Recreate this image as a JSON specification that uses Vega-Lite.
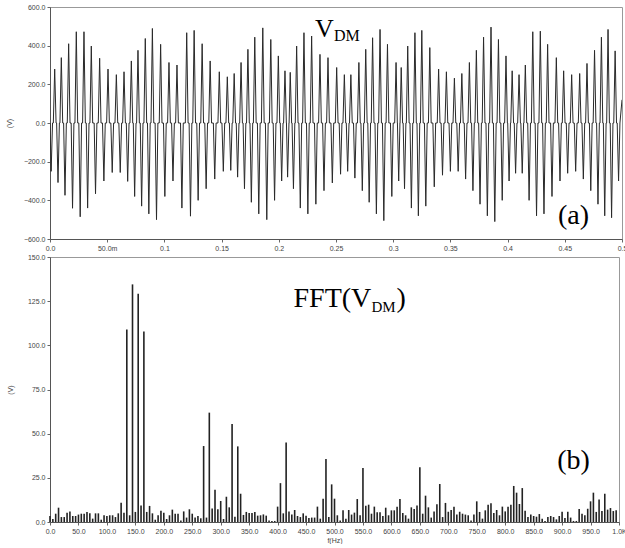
{
  "$schema": "https://vega.github.io/schema/vega-lite/v6.json",
  "background": "white",
  "padding": {"left": 4, "top": 2, "right": 0, "bottom": 0},
  "autosize": {"type": "pad"},
  "spacing": 0,
  "config": {
    "view": {"stroke": "#999", "strokeWidth": 1},
    "axis": {
      "grid": false,
      "labelFont": "Liberation Sans",
      "labelFontSize": 7,
      "labelColor": "#444",
      "titleFont": "Liberation Sans",
      "titleFontSize": 7,
      "titleFontWeight": "normal",
      "titleColor": "#444",
      "tickColor": "#666",
      "tickSize": 3,
      "labelPadding": 2,
      "domainColor": "#555",
      "labelFlush": false,
      "labelOverlap": false
    }
  },
  "datasets": {
    "wave": [
      {"t":0,"v":0},{"t":1,"v":-250},{"t":2.2,"v":0},
      {"t":2.9,"v":0},{"t":4.1,"v":279},{"t":5.3,"v":0},
      {"t":5.8,"v":0},{"t":7,"v":-308},{"t":8.2,"v":0},
      {"t":8.7,"v":0},{"t":9.9,"v":338},{"t":11.1,"v":0},
      {"t":11.9,"v":0},{"t":13.1,"v":-374},{"t":14.3,"v":0},
      {"t":15.1,"v":0},{"t":16.3,"v":410},{"t":17.5,"v":0},
      {"t":18.5,"v":0},{"t":19.7,"v":-441},{"t":20.9,"v":0},
      {"t":21.8,"v":0},{"t":23,"v":472},{"t":24.2,"v":0},
      {"t":25.2,"v":0},{"t":26.4,"v":-485},{"t":27.6,"v":0},
      {"t":28.5,"v":0},{"t":29.7,"v":472},{"t":30.9,"v":0},
      {"t":31.7,"v":0},{"t":32.9,"v":-440},{"t":34.1,"v":0},
      {"t":34.9,"v":0},{"t":36.1,"v":398},{"t":37.3,"v":0},
      {"t":38.6,"v":0},{"t":39.8,"v":-366},{"t":41,"v":0},
      {"t":42.2,"v":0},{"t":43.4,"v":335},{"t":44.6,"v":0},
      {"t":45.9,"v":0},{"t":47.1,"v":-300},{"t":48.3,"v":0},
      {"t":49.5,"v":0},{"t":50.7,"v":279},{"t":51.9,"v":0},
      {"t":53.2,"v":0},{"t":54.4,"v":-256},{"t":55.6,"v":0},
      {"t":56.8,"v":0},{"t":58,"v":250},{"t":59.2,"v":0},
      {"t":60.2,"v":0},{"t":61.4,"v":-256},{"t":62.6,"v":0},
      {"t":63.5,"v":0},{"t":64.7,"v":265},{"t":65.9,"v":0},
      {"t":66.7,"v":0},{"t":67.9,"v":-302},{"t":69.1,"v":0},
      {"t":69.9,"v":0},{"t":71.1,"v":321},{"t":72.3,"v":0},
      {"t":72.8,"v":0},{"t":74,"v":-380},{"t":75.2,"v":0},
      {"t":75.7,"v":0},{"t":76.9,"v":376},{"t":78.1,"v":0},
      {"t":78.9,"v":0},{"t":80.1,"v":-430},{"t":81.3,"v":0},
      {"t":82.1,"v":0},{"t":83.3,"v":437},{"t":84.5,"v":0},
      {"t":85.2,"v":0},{"t":86.4,"v":-470},{"t":87.6,"v":0},
      {"t":88.3,"v":0},{"t":89.5,"v":489},{"t":90.7,"v":0},
      {"t":91.9,"v":0},{"t":93.1,"v":-500},{"t":94.3,"v":0},
      {"t":95.5,"v":0},{"t":96.7,"v":407},{"t":97.9,"v":0},
      {"t":99.2,"v":0},{"t":100.4,"v":-380},{"t":101.6,"v":0},
      {"t":102.8,"v":0},{"t":104,"v":313},{"t":105.2,"v":0},
      {"t":106.3,"v":0},{"t":107.5,"v":-300},{"t":108.7,"v":0},
      {"t":109.8,"v":0},{"t":111,"v":300},{"t":112.2,"v":0},
      {"t":114.1,"v":0},{"t":115.3,"v":-440},{"t":116.5,"v":0},
      {"t":118.3,"v":0},{"t":119.5,"v":467},{"t":120.7,"v":0},
      {"t":121.6,"v":0},{"t":122.8,"v":-482},{"t":124,"v":0},
      {"t":124.8,"v":0},{"t":126,"v":479},{"t":127.2,"v":0},
      {"t":128.3,"v":0},{"t":129.5,"v":-400},{"t":130.7,"v":0},
      {"t":131.8,"v":0},{"t":133,"v":410},{"t":134.2,"v":0},
      {"t":135.3,"v":0},{"t":136.5,"v":-340},{"t":137.7,"v":0},
      {"t":138.8,"v":0},{"t":140,"v":321},{"t":141.2,"v":0},
      {"t":142.8,"v":0},{"t":144,"v":-290},{"t":145.2,"v":0},
      {"t":146.8,"v":0},{"t":148,"v":265},{"t":149.2,"v":0},
      {"t":150.3,"v":0},{"t":151.5,"v":-250},{"t":152.7,"v":0},
      {"t":153.8,"v":0},{"t":155,"v":239},{"t":156.2,"v":0},
      {"t":156.8,"v":0},{"t":158,"v":-245},{"t":159.2,"v":0},
      {"t":159.8,"v":0},{"t":161,"v":256},{"t":162.2,"v":0},
      {"t":162.8,"v":0},{"t":164,"v":-280},{"t":165.2,"v":0},
      {"t":165.8,"v":0},{"t":167,"v":313},{"t":168.2,"v":0},
      {"t":168.8,"v":0},{"t":170,"v":-340},{"t":171.2,"v":0},
      {"t":171.8,"v":0},{"t":173,"v":381},{"t":174.2,"v":0},
      {"t":174.8,"v":0},{"t":176,"v":-410},{"t":177.2,"v":0},
      {"t":177.8,"v":0},{"t":179,"v":444},{"t":180.2,"v":0},
      {"t":181.3,"v":0},{"t":182.5,"v":-470},{"t":183.7,"v":0},
      {"t":184.8,"v":0},{"t":186,"v":492},{"t":187.2,"v":0},
      {"t":188.3,"v":0},{"t":189.5,"v":-500},{"t":190.7,"v":0},
      {"t":191.8,"v":0},{"t":193,"v":432},{"t":194.2,"v":0},
      {"t":195.1,"v":0},{"t":196.3,"v":-400},{"t":197.5,"v":0},
      {"t":198.4,"v":0},{"t":199.6,"v":347},{"t":200.8,"v":0},
      {"t":201.3,"v":0},{"t":202.5,"v":-300},{"t":203.7,"v":0},
      {"t":204.2,"v":0},{"t":205.4,"v":270},{"t":206.6,"v":0},
      {"t":206.7,"v":0},{"t":207.7,"v":-280},{"t":208.9,"v":0},
      {"t":209,"v":0},{"t":210,"v":262},{"t":211.2,"v":0},
      {"t":211.6,"v":0},{"t":212.8,"v":-340},{"t":214,"v":0},
      {"t":214.4,"v":0},{"t":215.6,"v":398},{"t":216.8,"v":0},
      {"t":217.6,"v":0},{"t":218.8,"v":-440},{"t":220,"v":0},
      {"t":220.8,"v":0},{"t":222,"v":467},{"t":223.2,"v":0},
      {"t":224.2,"v":0},{"t":225.4,"v":-470},{"t":226.6,"v":0},
      {"t":227.5,"v":0},{"t":228.7,"v":450},{"t":229.9,"v":0},
      {"t":231.2,"v":0},{"t":232.4,"v":-420},{"t":233.6,"v":0},
      {"t":234.8,"v":0},{"t":236,"v":355},{"t":237.2,"v":0},
      {"t":238.3,"v":0},{"t":239.5,"v":-350},{"t":240.7,"v":0},
      {"t":241.8,"v":0},{"t":243,"v":338},{"t":244.2,"v":0},
      {"t":245.6,"v":0},{"t":246.8,"v":-310},{"t":248,"v":0},
      {"t":249.4,"v":0},{"t":250.6,"v":287},{"t":251.8,"v":0},
      {"t":252.8,"v":0},{"t":254,"v":-265},{"t":255.2,"v":0},
      {"t":256.1,"v":0},{"t":257.3,"v":250},{"t":258.5,"v":0},
      {"t":259,"v":0},{"t":260.2,"v":-250},{"t":261.4,"v":0},
      {"t":261.8,"v":0},{"t":263,"v":250},{"t":264.2,"v":0},
      {"t":265.3,"v":0},{"t":266.5,"v":-285},{"t":267.7,"v":0},
      {"t":268.8,"v":0},{"t":270,"v":313},{"t":271.2,"v":0},
      {"t":271.8,"v":0},{"t":273,"v":-350},{"t":274.2,"v":0},
      {"t":274.8,"v":0},{"t":276,"v":381},{"t":277.2,"v":0},
      {"t":277.8,"v":0},{"t":279,"v":-410},{"t":280.2,"v":0},
      {"t":280.8,"v":0},{"t":282,"v":441},{"t":283.2,"v":0},
      {"t":284.1,"v":0},{"t":285.3,"v":-470},{"t":286.5,"v":0},
      {"t":287.3,"v":0},{"t":288.5,"v":484},{"t":289.7,"v":0},
      {"t":290.6,"v":0},{"t":291.8,"v":-505},{"t":293,"v":0},
      {"t":293.8,"v":0},{"t":295,"v":407},{"t":296.2,"v":0},
      {"t":297.6,"v":0},{"t":298.8,"v":-380},{"t":300,"v":0},
      {"t":301.3,"v":0},{"t":302.5,"v":313},{"t":303.6,"v":0},
      {"t":303.7,"v":0},{"t":304.8,"v":-300},{"t":305.9,"v":0},
      {"t":306,"v":0},{"t":307,"v":287},{"t":308.2,"v":0},
      {"t":308.7,"v":0},{"t":309.9,"v":-340},{"t":311.1,"v":0},
      {"t":311.5,"v":0},{"t":312.7,"v":398},{"t":313.9,"v":0},
      {"t":314.7,"v":0},{"t":315.9,"v":-440},{"t":317.1,"v":0},
      {"t":317.8,"v":0},{"t":319,"v":467},{"t":320.2,"v":0},
      {"t":320.8,"v":0},{"t":322,"v":-480},{"t":323.2,"v":0},
      {"t":323.8,"v":0},{"t":325,"v":479},{"t":326.2,"v":0},
      {"t":327.3,"v":0},{"t":328.5,"v":-430},{"t":329.7,"v":0},
      {"t":330.8,"v":0},{"t":332,"v":390},{"t":333.2,"v":0},
      {"t":334.7,"v":0},{"t":335.9,"v":-330},{"t":337.1,"v":0},
      {"t":338.5,"v":0},{"t":339.7,"v":279},{"t":340.9,"v":0},
      {"t":341.9,"v":0},{"t":343.1,"v":-270},{"t":344.3,"v":0},
      {"t":345.3,"v":0},{"t":346.5,"v":265},{"t":347.7,"v":0},
      {"t":348.8,"v":0},{"t":350,"v":-250},{"t":351.2,"v":0},
      {"t":352.3,"v":0},{"t":353.5,"v":232},{"t":354.7,"v":0},
      {"t":355.6,"v":0},{"t":356.8,"v":-250},{"t":358,"v":0},
      {"t":358.8,"v":0},{"t":360,"v":256},{"t":361.2,"v":0},
      {"t":362.1,"v":0},{"t":363.3,"v":-290},{"t":364.5,"v":0},
      {"t":365.4,"v":0},{"t":366.6,"v":313},{"t":367.8,"v":0},
      {"t":368.5,"v":0},{"t":369.7,"v":-350},{"t":370.9,"v":0},
      {"t":371.5,"v":0},{"t":372.7,"v":376},{"t":373.9,"v":0},
      {"t":374.7,"v":0},{"t":375.9,"v":-420},{"t":377.1,"v":0},
      {"t":377.8,"v":0},{"t":379,"v":444},{"t":380.2,"v":0},
      {"t":381.1,"v":0},{"t":382.3,"v":-480},{"t":383.5,"v":0},
      {"t":384.3,"v":0},{"t":385.5,"v":496},{"t":386.7,"v":0},
      {"t":387.6,"v":0},{"t":388.8,"v":-510},{"t":390,"v":0},
      {"t":390.8,"v":0},{"t":392,"v":432},{"t":393.2,"v":0},
      {"t":394.1,"v":0},{"t":395.3,"v":-400},{"t":396.5,"v":0},
      {"t":397.4,"v":0},{"t":398.6,"v":347},{"t":399.8,"v":0},
      {"t":400.1,"v":0},{"t":401.3,"v":-300},{"t":402.5,"v":0},
      {"t":402.8,"v":0},{"t":404,"v":270},{"t":405.2,"v":0},
      {"t":405.8,"v":0},{"t":407,"v":-260},{"t":408.2,"v":0},
      {"t":408.8,"v":0},{"t":410,"v":250},{"t":411.2,"v":0},
      {"t":411.6,"v":0},{"t":412.8,"v":-260},{"t":414,"v":0},
      {"t":414.3,"v":0},{"t":415.5,"v":300},{"t":416.7,"v":0},
      {"t":417.6,"v":0},{"t":418.8,"v":-400},{"t":420,"v":0},
      {"t":420.8,"v":0},{"t":422,"v":472},{"t":423.2,"v":0},
      {"t":424.1,"v":0},{"t":425.3,"v":-480},{"t":426.5,"v":0},
      {"t":427.4,"v":0},{"t":428.6,"v":475},{"t":429.8,"v":0},
      {"t":430.6,"v":0},{"t":431.8,"v":-470},{"t":433,"v":0},
      {"t":433.8,"v":0},{"t":435,"v":407},{"t":436.2,"v":0},
      {"t":437.6,"v":0},{"t":438.8,"v":-380},{"t":440,"v":0},
      {"t":441.4,"v":0},{"t":442.6,"v":338},{"t":443.8,"v":0},
      {"t":444.6,"v":0},{"t":445.8,"v":-300},{"t":447,"v":0},
      {"t":447.8,"v":0},{"t":449,"v":270},{"t":450.2,"v":0},
      {"t":451.3,"v":0},{"t":452.5,"v":-260},{"t":453.7,"v":0},
      {"t":454.8,"v":0},{"t":456,"v":250},{"t":457.2,"v":0},
      {"t":458.3,"v":0},{"t":459.5,"v":-250},{"t":460.7,"v":0},
      {"t":461.8,"v":0},{"t":463,"v":256},{"t":464.2,"v":0},
      {"t":465,"v":0},{"t":466.2,"v":-290},{"t":467.4,"v":0},
      {"t":468.2,"v":0},{"t":469.4,"v":308},{"t":470.6,"v":0},
      {"t":471.5,"v":0},{"t":472.7,"v":-350},{"t":473.9,"v":0},
      {"t":474.8,"v":0},{"t":476,"v":376},{"t":477.2,"v":0},
      {"t":477.8,"v":0},{"t":479,"v":-420},{"t":480.2,"v":0},
      {"t":480.8,"v":0},{"t":482,"v":444},{"t":483.2,"v":0},
      {"t":483.7,"v":0},{"t":484.9,"v":-480},{"t":486.1,"v":0},
      {"t":486.6,"v":0},{"t":487.8,"v":484},{"t":489,"v":0},
      {"t":489.7,"v":0},{"t":490.9,"v":-490},{"t":492.1,"v":0},
      {"t":492.8,"v":0},{"t":494,"v":373},{"t":495.2,"v":0},
      {"t":495.8,"v":0},{"t":497,"v":-300},{"t":498.2,"v":0},
      {"t":500,"v":120}
    ],
    "fft": [
      {"f":0,"a":3.4},{"f":5,"a":1.7},{"f":10,"a":4.7},{"f":15,"a":8.1},{"f":20,"a":2.8},{"f":25,"a":2.8},{"f":30,"a":5.3},{"f":35,"a":6.0},{"f":40,"a":3.4},{"f":45,"a":3.4},
      {"f":50,"a":4.2},{"f":55,"a":4.7},{"f":60,"a":4.7},{"f":65,"a":5.7},{"f":70,"a":4.9},{"f":75,"a":1.9},{"f":80,"a":4.9},{"f":85,"a":4.9},{"f":90,"a":1.3},{"f":95,"a":3.8},
      {"f":100,"a":3.4},{"f":105,"a":3.8},{"f":110,"a":3.8},{"f":115,"a":2.8},{"f":120,"a":4.9},{"f":125,"a":10.9},{"f":130,"a":5.3},{"f":135,"a":109},{"f":140,"a":3.8},{"f":145,"a":134.5},
      {"f":150,"a":5.7},{"f":155,"a":129.2},{"f":160,"a":9.4},{"f":165,"a":107.9},{"f":170,"a":5.7},{"f":175,"a":9.1},{"f":180,"a":4.9},{"f":185,"a":1.3},{"f":190,"a":3.8},{"f":195,"a":6.4},
      {"f":200,"a":5.3},{"f":205,"a":1.7},{"f":210,"a":3.8},{"f":215,"a":7.0},{"f":220,"a":4.7},{"f":225,"a":4.7},{"f":230,"a":0.9},{"f":235,"a":6.0},{"f":240,"a":2.5},{"f":245,"a":7.2},
      {"f":250,"a":4.7},{"f":255,"a":2.5},{"f":260,"a":3.4},{"f":265,"a":2.1},{"f":270,"a":43},{"f":275,"a":2.5},{"f":280,"a":61.9},{"f":285,"a":7.7},{"f":290,"a":18.3},{"f":295,"a":7.2},
      {"f":300,"a":11.9},{"f":305,"a":1.7},{"f":310,"a":14.3},{"f":315,"a":8.3},{"f":320,"a":55.5},{"f":325,"a":3.0},{"f":330,"a":42.8},{"f":335,"a":16.0},{"f":340,"a":4.0},{"f":345,"a":5.7},
      {"f":350,"a":5.1},{"f":355,"a":5.1},{"f":360,"a":5.7},{"f":365,"a":3.6},{"f":370,"a":3.8},{"f":375,"a":4.3},{"f":380,"a":3.6},{"f":385,"a":0.9},{"f":390,"a":0.6},{"f":395,"a":0.6},
      {"f":400,"a":8.7},{"f":405,"a":22},{"f":410,"a":4.9},{"f":415,"a":45},{"f":420,"a":6.0},{"f":425,"a":4.3},{"f":430,"a":6.8},{"f":435,"a":3.4},{"f":440,"a":2.8},{"f":445,"a":4.9},
      {"f":450,"a":3.6},{"f":455,"a":2.3},{"f":460,"a":2.5},{"f":465,"a":2.5},{"f":470,"a":8.7},{"f":475,"a":1.9},{"f":480,"a":13.2},{"f":485,"a":35.7},{"f":490,"a":2.8},{"f":495,"a":21.3},
      {"f":500,"a":13.2},{"f":505,"a":3.8},{"f":510,"a":0.9},{"f":515,"a":6.6},{"f":520,"a":1.9},{"f":525,"a":6.8},{"f":530,"a":4.2},{"f":535,"a":5.3},{"f":540,"a":13.0},{"f":545,"a":3.8},
      {"f":550,"a":30.6},{"f":555,"a":9.2},{"f":560,"a":9.8},{"f":565,"a":4.7},{"f":570,"a":8.7},{"f":575,"a":5.5},{"f":580,"a":5.5},{"f":585,"a":3.4},{"f":590,"a":8.1},{"f":595,"a":3.8},
      {"f":600,"a":6.6},{"f":605,"a":6.6},{"f":610,"a":8.7},{"f":615,"a":13.0},{"f":620,"a":5.1},{"f":625,"a":3.8},{"f":630,"a":1.9},{"f":635,"a":8.3},{"f":640,"a":7.4},{"f":645,"a":9.4},
      {"f":650,"a":31.0},{"f":655,"a":4.7},{"f":660,"a":14.9},{"f":665,"a":8.3},{"f":670,"a":2.5},{"f":675,"a":6.0},{"f":680,"a":10.0},{"f":685,"a":21.5},{"f":690,"a":2.8},{"f":695,"a":10.8},
      {"f":700,"a":5.8},{"f":705,"a":6.8},{"f":710,"a":8.7},{"f":715,"a":4.2},{"f":720,"a":5.8},{"f":725,"a":4.7},{"f":730,"a":4.2},{"f":735,"a":3.8},{"f":740,"a":0.9},{"f":745,"a":4.2},
      {"f":750,"a":11.7},{"f":755,"a":5.7},{"f":760,"a":1.9},{"f":765,"a":6.6},{"f":770,"a":9.8},{"f":775,"a":10.6},{"f":780,"a":5.1},{"f":785,"a":6.8},{"f":790,"a":3.8},{"f":795,"a":8.7},
      {"f":800,"a":6.0},{"f":805,"a":8.7},{"f":810,"a":9.8},{"f":815,"a":20.4},{"f":820,"a":16.6},{"f":825,"a":10.2},{"f":830,"a":19.2},{"f":835,"a":6.4},{"f":840,"a":2.8},{"f":845,"a":4.2},
      {"f":850,"a":3.4},{"f":855,"a":3.0},{"f":860,"a":4.5},{"f":865,"a":1.9},{"f":870,"a":0.6},{"f":875,"a":2.8},{"f":880,"a":3.4},{"f":885,"a":2.8},{"f":890,"a":1.5},{"f":895,"a":3.4},
      {"f":900,"a":5.8},{"f":905,"a":2.3},{"f":910,"a":5.8},{"f":915,"a":2.5},{"f":920,"a":0.6},{"f":925,"a":0.6},{"f":930,"a":7.4},{"f":935,"a":4.7},{"f":940,"a":3.8},{"f":945,"a":7.5},
      {"f":950,"a":11.7},{"f":955,"a":16.6},{"f":960,"a":5.7},{"f":965,"a":12.8},{"f":970,"a":6.2},{"f":975,"a":16.0},{"f":980,"a":7.0},{"f":985,"a":7.9},{"f":990,"a":6.2},{"f":995,"a":6.6}
    ]
  },
  "vconcat": [
    {
      "width": 572,
      "height": 232,
      "encoding": {
        "x": {"field": "t", "type": "quantitative", "scale": {"domain": [0, 500], "nice": false}, "axis": {"title": null, "values": [0,50,100,150,200,250,300,350,400,450,500], "labelExpr": "datum.value == 0 ? '0.0' : datum.value == 50 ? '50.0m' : format(datum.value / 1000, '~g')"}},
        "y": {"field": "v", "type": "quantitative", "scale": {"domain": [-600, 600], "nice": false}, "axis": {"title": "(V)", "titlePadding": 11, "values": [-600,-400,-200,0,200,400,600], "format": ".1f"}}
      },
      "layer": [
        {"data": {"name": "wave"}, "mark": {"type": "line", "color": "#2a2a2a", "strokeWidth": 1, "clip": true}},
        {"data": {"values": [{"t": 231.6, "v": 443, "s": "V"}]}, "mark": {"type": "text", "font": "Liberation Serif", "fontSize": 26, "align": "left", "baseline": "alphabetic", "color": "black"}, "encoding": {"text": {"field": "s"}}},
        {"data": {"values": [{"t": 248.3, "v": 423, "s": "DM"}]}, "mark": {"type": "text", "font": "Liberation Serif", "fontSize": 16, "align": "left", "baseline": "alphabetic", "color": "black"}, "encoding": {"text": {"field": "s"}}},
        {"data": {"values": [{"t": 444, "v": -524, "s": "(a)"}]}, "mark": {"type": "text", "font": "Liberation Serif", "fontSize": 28, "align": "left", "baseline": "alphabetic", "color": "black"}, "encoding": {"text": {"field": "s"}}}
      ]
    },
    {
      "width": 569,
      "height": 265,
      "encoding": {
        "x": {"field": "f", "type": "quantitative", "scale": {"domain": [0, 1000], "nice": false}, "axis": {"title": "f(Hz)", "titlePadding": 2, "values": [0,50,100,150,200,250,300,350,400,450,500,550,600,650,700,750,800,850,900,950,1000], "labelExpr": "datum.value == 1000 ? '1.0K' : format(datum.value, '.1f')"}},
        "y": {"field": "a", "type": "quantitative", "scale": {"domain": [0, 150], "nice": false}, "axis": {"title": "(V)", "titlePadding": 14, "values": [0,25,50,75,100,125,150], "format": ".1f"}}
      },
      "layer": [
        {"data": {"name": "fft"}, "mark": {"type": "rule", "color": "#222", "strokeWidth": 1.6}, "encoding": {"y2": {"datum": 0}}},
        {"data": {"values": [{"f": 428, "a": 121.5, "s": "FFT(V"}]}, "mark": {"type": "text", "font": "Liberation Serif", "fontSize": 28, "align": "left", "baseline": "alphabetic", "color": "black"}, "encoding": {"text": {"field": "s"}}},
        {"data": {"values": [{"f": 565, "a": 119, "s": "DM"}]}, "mark": {"type": "text", "font": "Liberation Serif", "fontSize": 15, "align": "left", "baseline": "alphabetic", "color": "black"}, "encoding": {"text": {"field": "s"}}},
        {"data": {"values": [{"f": 609, "a": 121.5, "s": ")"}]}, "mark": {"type": "text", "font": "Liberation Serif", "fontSize": 28, "align": "left", "baseline": "alphabetic", "color": "black"}, "encoding": {"text": {"field": "s"}}},
        {"data": {"values": [{"f": 891.5, "a": 29.8, "s": "(b)"}]}, "mark": {"type": "text", "font": "Liberation Serif", "fontSize": 28, "align": "left", "baseline": "alphabetic", "color": "black"}, "encoding": {"text": {"field": "s"}}}
      ]
    }
  ]
}
